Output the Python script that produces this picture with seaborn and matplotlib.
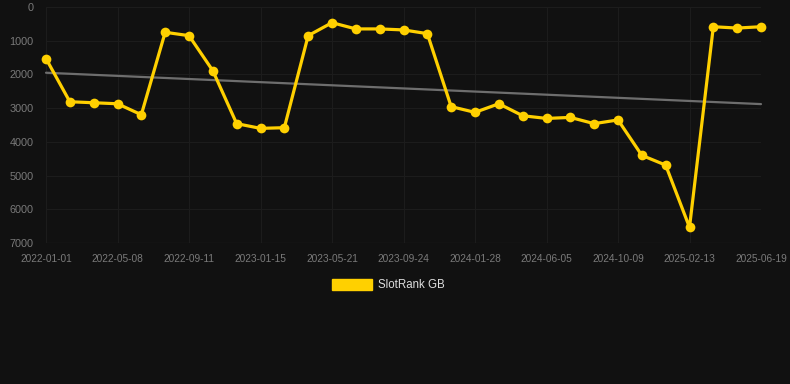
import numpy as np
import pandas as pd
import matplotlib
matplotlib.use("Agg")
import matplotlib.pyplot as plt
import seaborn as sns

# ---- data ----
start_date = "2022-01-01"
end_date = "2025-06-19"
rank_values = [1530, 2810, 2840, 2870, 3195, 750, 850, 1890, 3460, 3600,
               3580, 850, 465, 650, 650, 680, 790, 2955, 3125, 2870,
               3225, 3305, 3275, 3460, 3350, 4400, 4690, 6535, 585, 625, 585]
trend_values = [1950, 2880]
y_ticks = [0, 1000, 2000, 3000, 4000, 5000, 6000, 7000]
x_tick_labels = ["2022-01-01", "2022-05-08", "2022-09-11", "2023-01-15",
                 "2023-05-21", "2023-09-24", "2024-01-28", "2024-06-05",
                 "2024-10-09", "2025-02-13", "2025-06-19"]
series_name = "SlotRank GB"

dates = pd.date_range(start_date, end_date, periods=len(rank_values))
df = pd.DataFrame({"date": dates, "rank": rank_values})
trend_df = pd.DataFrame({"date": [dates[0], dates[-1]], "rank": trend_values})
tick_dates = pd.date_range(start_date, end_date, periods=len(x_tick_labels))

# ---- style ----
sns.set_theme(style="dark")
bg = "#111111"
plt.rcParams["font.family"] = ["Liberation Sans", "DejaVu Sans"]

fig = plt.figure(figsize=(7.9, 3.84), dpi=100, facecolor=bg)
ax = fig.add_axes([46 / 790, 1 - 243 / 384, 715 / 790, 236 / 384])
ax.set_facecolor(bg)

sns.lineplot(data=trend_df, x="date", y="rank", ax=ax, color="#6e6e6e",
             linewidth=1.6, legend=False, zorder=2)
sns.lineplot(data=df, x="date", y="rank", ax=ax, color="#FFD000",
             linewidth=2.3, marker="o", markersize=7, markeredgewidth=0,
             legend=False, zorder=3)
for ln in ax.lines:
    ln.set_clip_on(False)

ax.set_ylim(7000, 0)
ax.set_xlim(dates[0], dates[-1])
ax.set_yticks(y_ticks)
ax.set_yticklabels([str(v) for v in y_ticks])
ax.set_xticks(tick_dates)
ax.set_xticklabels(x_tick_labels)
ax.set_xlabel("")
ax.set_ylabel("")

ax.grid(True, color="#1c1c1c", linewidth=0.8)
for s in ax.spines.values():
    s.set_visible(False)
ax.axhline(7000, color="#272727", linewidth=0.9, zorder=1)

ax.tick_params(axis="y", colors="#7a7a7a", labelsize=7.8, length=0, pad=9)
ax.tick_params(axis="x", colors="#7a7a7a", labelsize=7.3, length=6,
               width=0.8, pad=2)
for t in ax.xaxis.get_ticklines():
    t.set_color("#1e1e1e")

# legend
fig.patches.append(plt.Rectangle((332 / 790, 1 - 290 / 384), 40 / 790, 11 / 384,
                                 transform=fig.transFigure, color="#FFD000"))
fig.text(378 / 790, 1 - 284.5 / 384, series_name, color="#dddddd",
         fontsize=8.3, va="center", ha="left")

fig.savefig("out.png", dpi=100, facecolor=bg)
